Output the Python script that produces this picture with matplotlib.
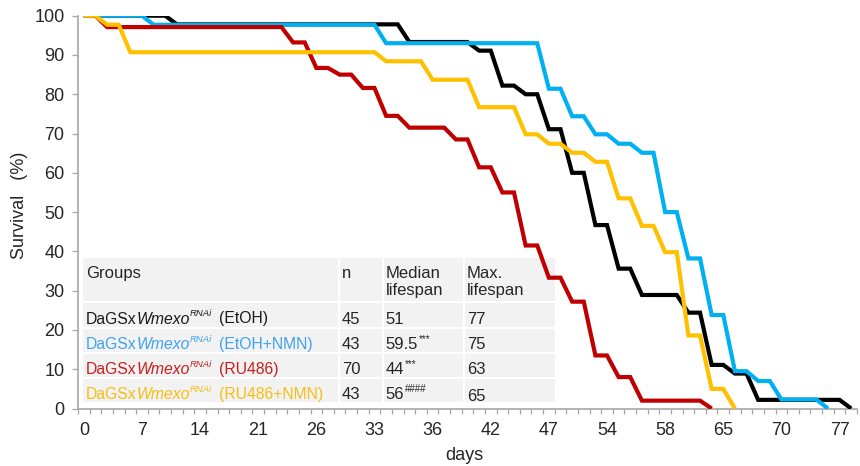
import numpy as np
import matplotlib
matplotlib.use("Agg")
import matplotlib.pyplot as plt
from matplotlib.patches import Rectangle

plt.rcParams['font.family'] = ['Liberation Sans', 'DejaVu Sans']

# survival curves: (scoring index, survival %) at each change point
black_idx = [0, 7, 8, 27, 28, 33, 34, 35, 36, 37, 38, 39, 40, 41, 42, 43, 44, 45, 46, 47, 48, 51, 52, 53, 54, 55, 56, 57, 58, 65, 66]
black_surv = [100, 100, 97.8, 97.8, 93.3, 93.3, 91.1, 91.1, 82.2, 82.2, 80, 80, 71.1, 71.1, 60, 60, 46.7, 46.7,
              35.6, 35.6, 28.9, 28.9, 24.4, 24.4, 11.1, 11.1, 8.9, 8.9, 2.2, 2.2, 0]

blue_idx = [0, 5, 6, 25, 26, 39, 40, 41, 42, 43, 44, 45, 46, 47, 48, 49, 50, 51, 52, 53, 54, 55, 56, 57, 58, 59, 60, 63, 64]
blue_surv = [100, 100, 97.7, 97.7, 93.0, 93.0, 81.4, 81.4, 74.4, 74.4, 69.8, 69.8, 67.4, 67.4, 65.1, 65.1,
             50.0, 50.0, 38.2, 38.2, 23.8, 23.8, 9.5, 9.5, 7.0, 7.0, 2.3, 2.3, 0]

red_idx = [0, 1, 2, 17, 18, 19, 20, 21, 22, 23, 24, 25, 26, 27, 28, 31, 32, 33, 34, 35, 36, 37, 38, 39, 40, 41,
           42, 43, 44, 45, 46, 47, 48, 53, 54]
red_surv = [100, 100, 97.1, 97.1, 93.2, 93.2, 86.7, 86.7, 85.0, 85.0, 81.6, 81.6, 74.5, 74.5, 71.5, 71.5, 68.5, 68.5,
            61.4, 61.4, 55.0, 55.0, 41.5, 41.5, 33.3, 33.3, 27.2, 27.2, 13.5, 13.5, 8.0, 8.0, 2.0, 2.0, 0]

yellow_idx = [0, 1, 2, 3, 4, 25, 26, 29, 30, 33, 34, 37, 38, 39, 40, 41, 42, 43, 44, 45, 46, 47, 48, 49, 50, 51,
              52, 53, 54, 55, 56]
yellow_surv = [100, 100, 97.7, 97.7, 90.7, 90.7, 88.4, 88.4, 83.7, 83.7, 76.7, 76.7, 69.8, 69.8, 67.4, 67.4,
               65.1, 65.1, 62.8, 62.8, 53.5, 53.5, 46.5, 46.5, 39.8, 39.8, 18.6, 18.6, 5.0, 5.0, 0]

day_labels = ["0", "7", "14", "21", "26", "33", "36", "42", "47", "54", "58", "65", "70", "77"]
n_points = 67

# table
treatments = ["(EtOH)", "(EtOH+NMN)", "(RU486)", "(RU486+NMN)"]
n_flies = ["45", "43", "70", "43"]
median_vals = ["51", "59.5", "44", "56"]
median_marks = ["", "***", "***", "####"]
max_vals = ["77", "75", "63", "65"]

colors = ["#000000", "#00b0f0", "#c00000", "#ffc000"]
text_colors = ["#1a1a1a", "#3fa2f0", "#c81e1e", "#f7bd12"]

W, H = 860, 466
fig = plt.figure(figsize=(W / 100, H / 100), dpi=100)
ax = fig.add_axes([78 / W, 1 - 408.5 / H, 779 / W, 392.8 / H])


def fx(x):
    return x / W


def fy(y):
    return 1 - y / H


series = [(black_idx, black_surv), (blue_idx, blue_surv), (red_idx, red_surv), (yellow_idx, yellow_surv)]
for (xi, yi), c in zip(series, colors):
    ax.plot(xi, yi, color=c, lw=3.0, zorder=3, solid_joinstyle='miter', solid_capstyle='butt')

ax.set_xlim(-0.5, n_points - 0.5)
ax.set_ylim(0, 100)
ax.set_xticks(np.arange(0, 5 * len(day_labels), 5))
ax.set_xticklabels(day_labels)
ax.set_xticks(np.arange(-0.5, n_points, 1), minor=True)
ax.set_yticks(range(0, 101, 10))

grey = "#a6a6a6"
for s in ["top", "right"]:
    ax.spines[s].set_visible(False)
for s in ["left", "bottom"]:
    ax.spines[s].set_color(grey)
    ax.spines[s].set_linewidth(1.2)
ax.tick_params(axis='x', which='major', length=0, pad=9.5, labelsize=13, labelcolor="#262626")
ax.tick_params(axis='x', which='minor', length=3.8, width=0.9, color=grey)
ax.tick_params(axis='y', length=4.3, width=0.9, color=grey, pad=5.5, labelsize=13, labelcolor="#262626")

ax.set_xlabel("days", fontsize=13, color="#262626")
ax.xaxis.set_label_coords((464 - 78) / 779, (408.5 - 455) / 392.8)
ax.xaxis.label.set_va('center')
ax.set_ylabel("Survival   (%)", fontsize=13, color="#262626")
ax.yaxis.set_label_coords((20 - 78) / 779, (408.5 - 205) / 392.8)
ax.yaxis.label.set_va('center')

# table cells
col_edges = [(83, 338), (340, 382), (384, 463), (465, 555)]
row_edges = [(258, 301), (303, 327), (329, 352), (354, 377), (379, 402)]
for (x0, x1) in col_edges:
    for (y0, y1) in row_edges:
        ax.add_patch(Rectangle((fx(x0), fy(y1)), fx(x1) - fx(x0), fy(y0) - fy(y1),
                               transform=fig.transFigure, facecolor="#f2f2f2", edgecolor="none", zorder=1))

renderer = fig.canvas.get_renderer()


def put(x, y, s, color, size=12, style='normal'):
    t = ax.text(fx(x), fy(y), s, transform=fig.transFigure, fontsize=size, style=style,
                color=color, ha='left', va='baseline', zorder=2)
    return t.get_window_extent(renderer).width


def put_parts(x, y, parts, color):
    for s, size, style, dy, gap in parts:
        x += put(x, y - dy, s, color, size, style) + gap


tc = "#262626"
put(86, 278, "Groups", tc)
put(342, 278, "n", tc)
put(385.5, 278, "Median", tc)
put(385.5, 295, "lifespan", tc)
put(467, 278, "Max.", tc)
put(467, 295, "lifespan", tc)

baselines = [323.5, 349, 374, 399]
for k in range(4):
    b = baselines[k]
    put_parts(86, b, [("DaGSx", 11.3, 'normal', 0, 0), ("Wmexo", 11.3, 'italic', 0, 0),
                      ("RNAi", 6.8, 'italic', 7, 7), (treatments[k], 11.3, 'normal', 0, 0)], text_colors[k])
    put(342, b, n_flies[k], tc)
    put_parts(385.5, b, [(median_vals[k], 12, 'normal', 0, 1), (median_marks[k], 7, 'normal', 7, 0)], tc)
    put(467, b + (2 if k == 3 else 0), max_vals[k], tc)

fig.savefig("out.png", dpi=100)
